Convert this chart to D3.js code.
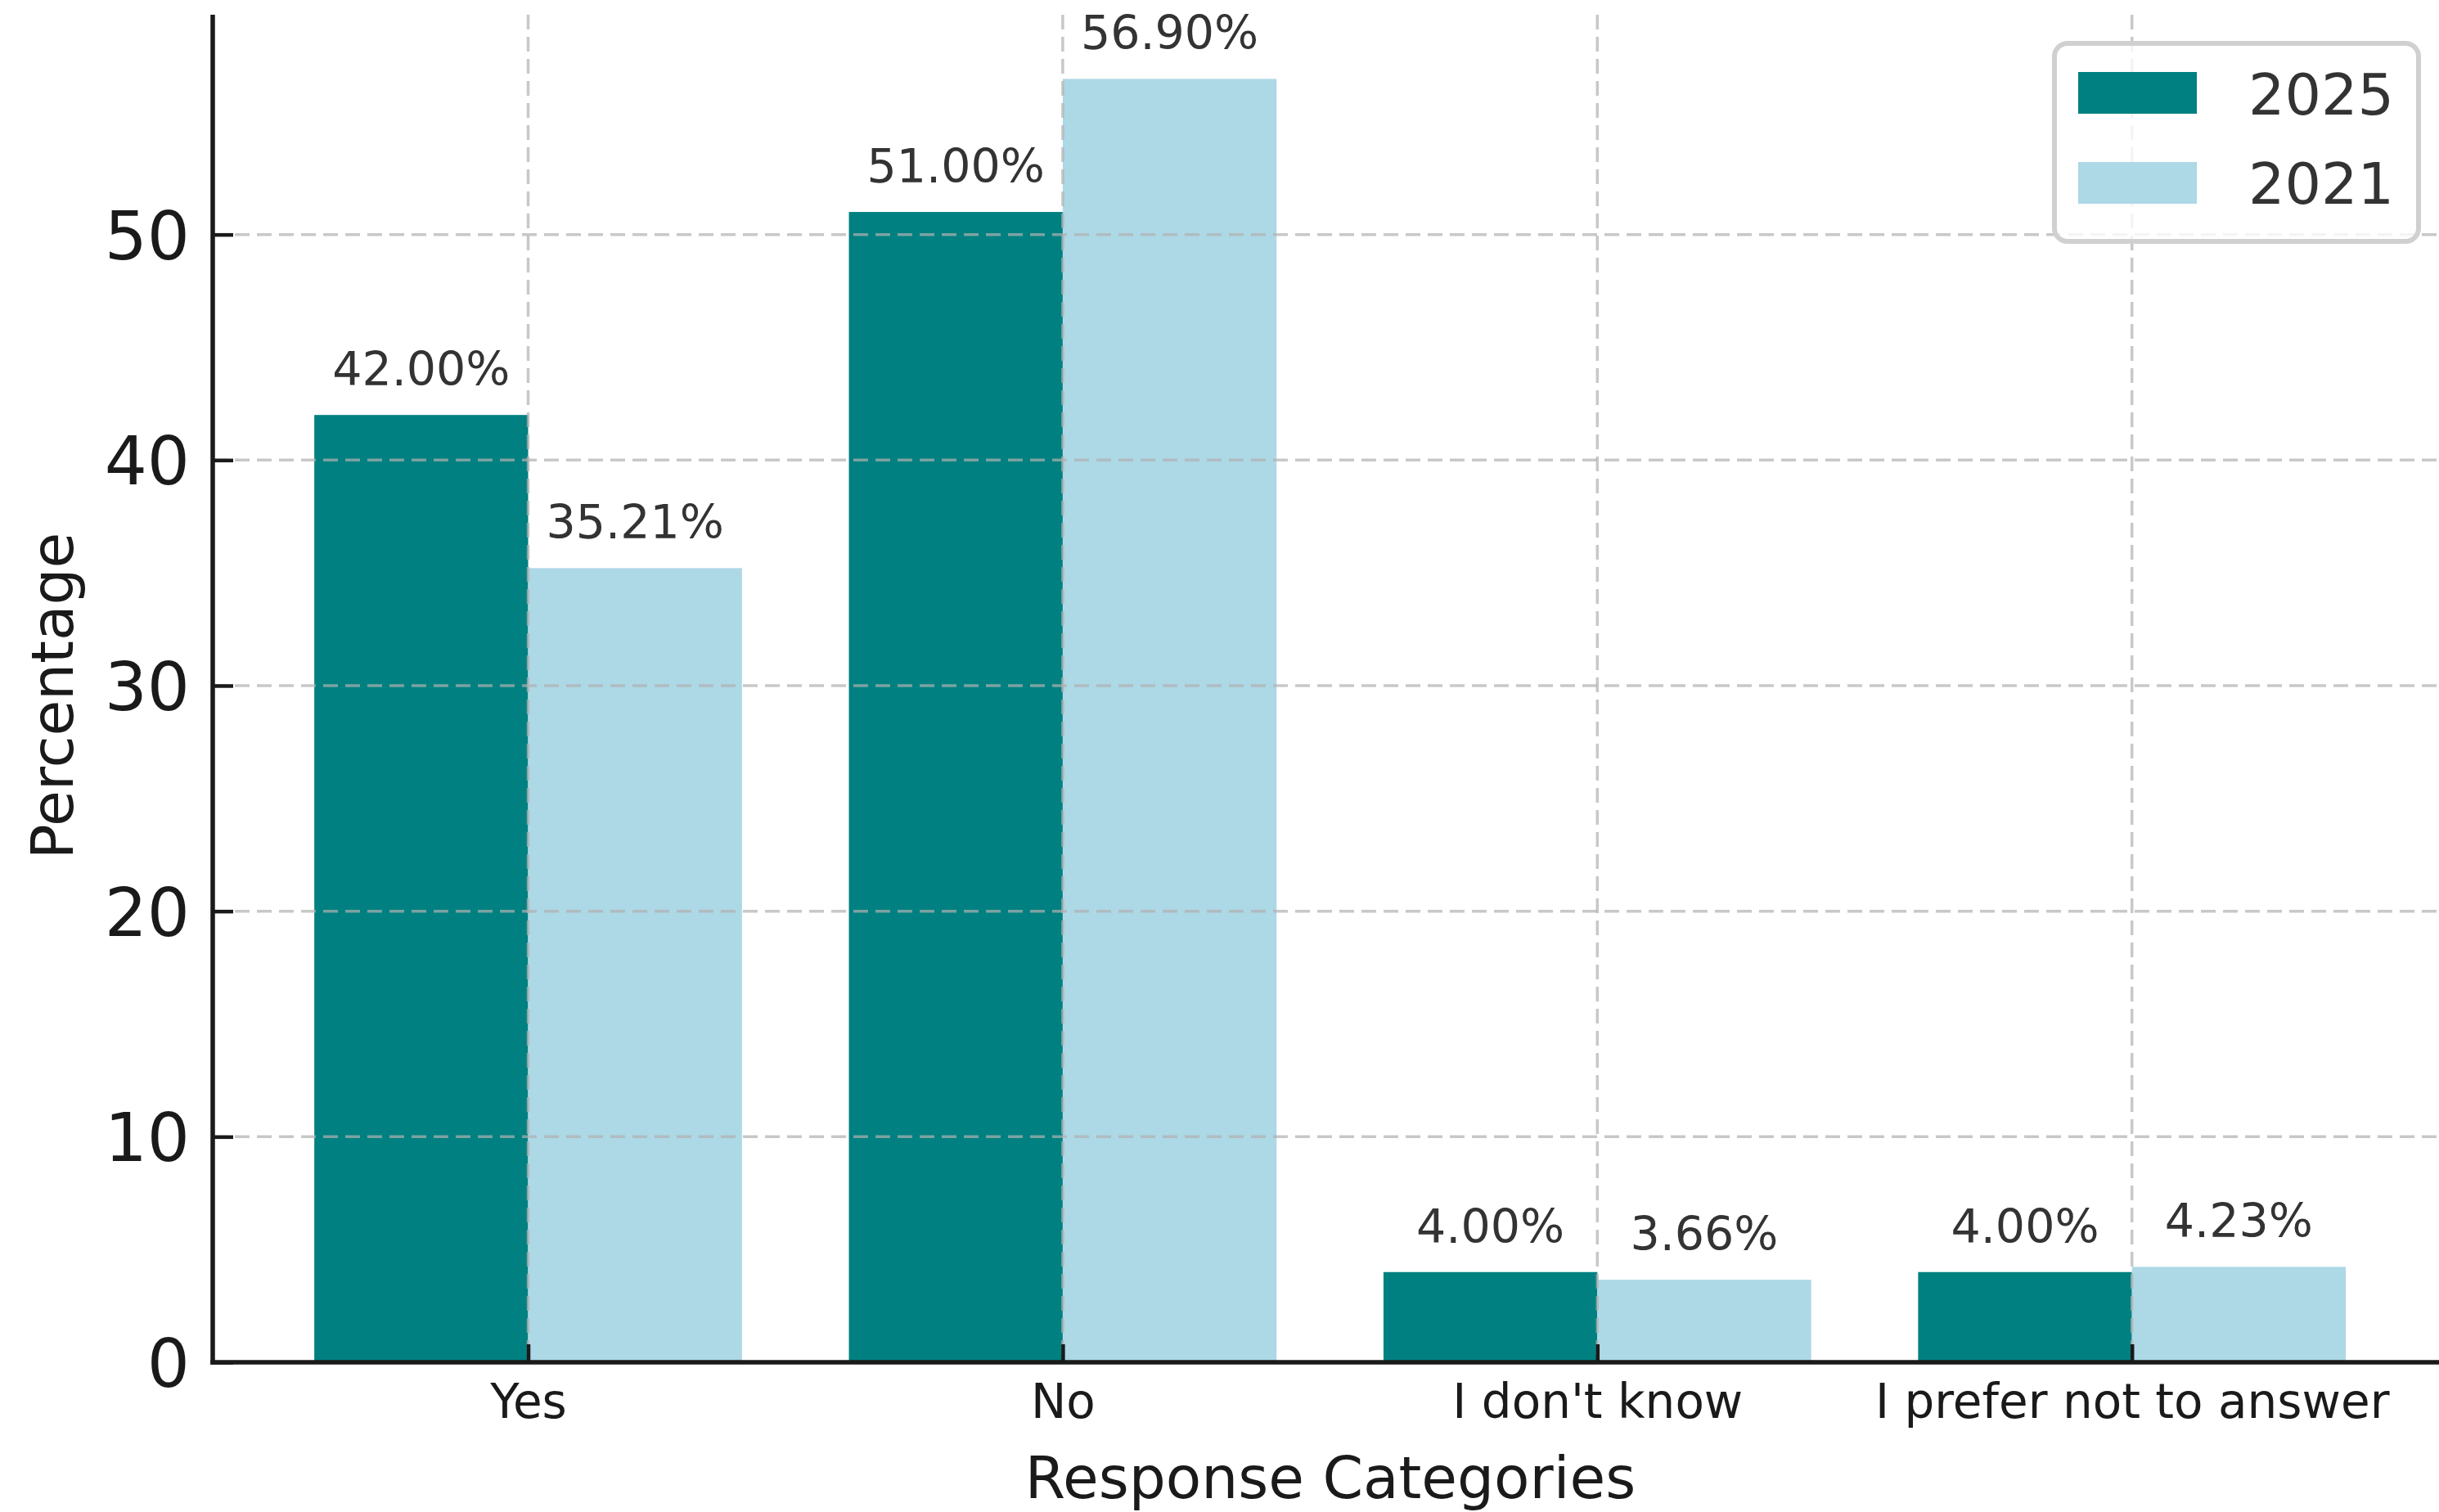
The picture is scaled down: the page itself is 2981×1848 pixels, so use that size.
<!DOCTYPE html>
<html>
<head>
<meta charset="utf-8">
<script src="https://cdn.jsdelivr.net/npm/d3@7"></script>
<style>
  body { margin: 0; background: #fff; }
  svg { display: block; font-family: 'DejaVu Sans', sans-serif; }
</style>
</head>
<body>
<div id="container"></div>
<script>
const categories = ['Yes', 'No', "I don't know", 'I prefer not to answer'];
const years = ['2025', '2021'];
const values2025 = [42.00, 51.00, 4.00, 4.00];
const values2021 = [35.21, 56.90, 3.66, 4.23];
const yTicks = [0, 10, 20, 30, 40, 50];
const colours = ['#008080', '#add8e6'];

const width = 2981, height = 1848;
const plotLeft = 260, plotBottom = 1665, plotTop = 18;
const barWidth = 0.4;

const svg = d3.select('#container').append('svg')
  .attr('width', width)
  .attr('height', height);

// x runs in category-index units, like matplotlib
const x = d3.scaleLinear().domain([-0.59, 3.59]).range([plotLeft, plotLeft + 4.18 * 653.4]);
const y = d3.scaleLinear().domain([0, 59.745]).range([plotBottom, plotTop]);

const series = [values2025, values2021];

// bars
series.forEach((vals, s) => {
  svg.append('g').selectAll('rect')
    .data(vals).enter()
    .append('rect')
    .attr('x', (d, i) => x(i - barWidth + s * barWidth))
    .attr('width', x(barWidth) - x(0))
    .attr('y', (d) => y(d))
    .attr('height', (d) => y(0) - y(d))
    .attr('fill', colours[s]);
});

// grid on top of bars
const grid = svg.append('g')
  .attr('stroke', '#b0b0b0')
  .attr('stroke-opacity', 0.7)
  .attr('stroke-width', 3.5)
  .attr('stroke-dasharray', '18,9');

grid.selectAll('line.h')
  .data(yTicks.filter((t) => t > 0)).enter()
  .append('line')
  .attr('x1', plotLeft).attr('x2', width)
  .attr('y1', (d) => y(d)).attr('y2', (d) => y(d));

grid.selectAll('line.v')
  .data(categories.map((c, i) => i)).enter()
  .append('line')
  .attr('x1', (d) => x(d)).attr('x2', (d) => x(d))
  .attr('y1', plotTop).attr('y2', plotBottom);

// value labels
series.forEach((vals, s) => {
  svg.append('g').selectAll('text')
    .data(vals).enter()
    .append('text')
    .attr('x', (d, i) => x(i - barWidth / 2 + s * barWidth))
    .attr('y', (d) => y(d) - 36)
    .attr('text-anchor', 'middle')
    .style('font-size', '57px')
    .attr('fill', '#333')
    .text((d) => d.toFixed(2) + '%');
});

// axes
const yAxis = svg.append('g')
  .attr('transform', `translate(${plotLeft},0)`)
  .call(d3.axisLeft(y).tickValues(yTicks).tickSize(-25).tickPadding(28));
yAxis.select('.domain').remove();
yAxis.selectAll('line').attr('stroke', '#1a1a1a').attr('stroke-width', 4.5);
yAxis.selectAll('text')
  .style('font-size', '82px')
  .attr('font-family', 'DejaVu Sans')
  .attr('fill', '#1a1a1a')
  .attr('dy', '0.36em');

const xAxis = svg.append('g')
  .attr('transform', `translate(0,${plotBottom})`)
  .call(d3.axisBottom(x)
    .tickValues(categories.map((c, i) => i))
    .tickFormat((i) => categories[i])
    .tickSize(-22)
    .tickPadding(27));
xAxis.select('.domain').remove();
xAxis.selectAll('line').attr('stroke', '#1a1a1a').attr('stroke-width', 4.5);
xAxis.selectAll('text')
  .style('font-size', '58px')
  .attr('font-family', 'DejaVu Sans')
  .attr('fill', '#1a1a1a');

// spines
svg.append('line')
  .attr('x1', plotLeft).attr('x2', plotLeft)
  .attr('y1', plotTop).attr('y2', plotBottom + 2.75)
  .attr('stroke', '#1a1a1a').attr('stroke-width', 5.5);
svg.append('line')
  .attr('x1', plotLeft - 2.75).attr('x2', width)
  .attr('y1', plotBottom).attr('y2', plotBottom)
  .attr('stroke', '#1a1a1a').attr('stroke-width', 5.5);

// axis titles
svg.append('text')
  .attr('x', 1626)
  .attr('y', 1831)
  .attr('text-anchor', 'middle')
  .style('font-size', '71px')
  .attr('fill', '#1a1a1a')
  .text('Response Categories');

svg.append('text')
  .attr('transform', `translate(89, ${(plotTop + plotBottom) / 2 + 9}) rotate(-90)`)
  .attr('text-anchor', 'middle')
  .style('font-size', '71px')
  .attr('fill', '#1a1a1a')
  .text('Percentage');

// legend
const legend = svg.append('g');
legend.append('rect')
  .attr('x', 2511).attr('y', 53)
  .attr('width', 445).attr('height', 242)
  .attr('rx', 16)
  .attr('fill', '#fff').attr('fill-opacity', 0.8)
  .attr('stroke', '#d0d0d0').attr('stroke-width', 6);

years.forEach((yr, k) => {
  legend.append('rect')
    .attr('x', 2540).attr('y', 88 + k * 110)
    .attr('width', 145).attr('height', 51)
    .attr('fill', colours[k]);
  legend.append('text')
    .attr('x', 2748).attr('y', 140 + k * 109)
    .style('font-size', '70px')
    .attr('fill', '#333')
    .text(yr);
});
</script>
</body>
</html>
